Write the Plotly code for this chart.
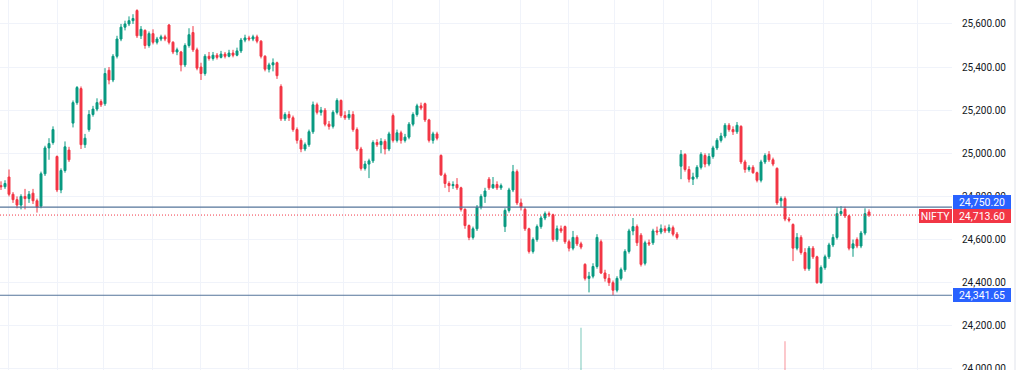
import plotly.graph_objects as go

# ---------------- data ----------------
symbol = "NIFTY"
last_price = 24713.60
resistance = 24750.20
support = 24341.65

opens = [24850, 24845, 24890, 24810, 24785, 24760, 24800, 24790, 24815, 24780,
         24755, 24905, 25025, 25050, 24985, 24830, 24920, 25015, 25140, 25235,
         25300, 25040, 25110, 25180, 25205, 25240, 25230, 25385, 25340, 25450,
         25530, 25585, 25600, 25615, 25662, 25545, 25570, 25500, 25555, 25515,
         25530, 25540, 25595, 25515, 25470, 25470, 25410, 25500, 25560, 25480,
         25400, 25370, 25450, 25440, 25455, 25445, 25460, 25450, 25465, 25455,
         25475, 25525, 25535, 25530, 25540, 25520, 25450, 25390, 25410, 25420,
         25310, 25160, 25180, 25165, 25110, 25060, 25020, 25040, 25100, 25225,
         25190, 25200, 25135, 25125, 25190, 25245, 25175, 25165, 25180, 25110,
         25020, 24930, 24950, 24965, 25050, 25040, 25055, 25020, 25175, 25060,
         25095, 25060, 25075, 25135, 25180, 25220, 25230, 25155, 25060, 25090,
         24990, 24900, 24860, 24850, 24855, 24840, 24740, 24665, 24610, 24650,
         24750, 24800, 24880, 24840, 24855, 24840, 24660, 24735, 24830, 24915,
         24770, 24740, 24650, 24545, 24600, 24660, 24700, 24720, 24715, 24600,
         24650, 24660, 24590, 24560, 24610, 24580, 24485, 24420, 24430, 24475,
         24590, 24445, 24420, 24400, 24365, 24420, 24460, 24545, 24640, 24660,
         24620, 24490, 24585, 24585, 24640, 24635, 24650, 24640, 24655, 24625,
         24940, 24995, 24925, 24880, 24890, 24935, 24990, 24950, 24985, 25025,
         25060, 25080, 25130, 25110, 25100, 25125, 24960, 24925, 24935, 24910,
         24875, 24960, 24995, 24970, 24930, 24780, 24790, 24695, 24670, 24560,
         24610, 24540, 24465, 24560, 24520, 24400, 24470, 24520, 24575, 24610,
         24720, 24740, 24710, 24560, 24600, 24570, 24630, 24728]

highs = [24870, 24875, 24925, 24820, 24800, 24810, 24835, 24825, 24835, 24790,
         24915, 25035, 25070, 25125, 24990, 24930, 25055, 25030, 25245, 25312,
         25310, 25090, 25200, 25220, 25255, 25250, 25395, 25400, 25460, 25545,
         25600, 25615, 25635, 25645, 25668, 25590, 25575, 25565, 25575, 25540,
         25550, 25550, 25600, 25520, 25490, 25475, 25510, 25580, 25590, 25490,
         25420, 25460, 25470, 25470, 25465, 25475, 25470, 25480, 25480, 25490,
         25535, 25550, 25545, 25550, 25550, 25525, 25455, 25420, 25440, 25425,
         25320, 25190, 25195, 25175, 25120, 25070, 25050, 25110, 25240, 25235,
         25215, 25210, 25150, 25200, 25255, 25250, 25195, 25200, 25195, 25120,
         25030, 24965, 24975, 25060, 25065, 25070, 25065, 25100, 25185, 25110,
         25105, 25090, 25145, 25190, 25230, 25235, 25235, 25160, 25100, 25100,
         24995, 24910, 24870, 24870, 24885, 24845, 24745, 24670, 24660, 24760,
         24810, 24840, 24890, 24890, 24870, 24860, 24745, 24840, 24946, 24925,
         24790, 24750, 24655, 24610, 24670, 24710, 24730, 24730, 24720, 24665,
         24665, 24665, 24600, 24640, 24620, 24590, 24490, 24450, 24490, 24625,
         24600, 24460, 24440, 24410, 24430, 24470, 24555, 24650, 24700, 24670,
         24630, 24595, 24600, 24650, 24660, 24670, 24665, 24670, 24665, 24635,
         25015, 25000, 24940, 24910, 24945, 25005, 25000, 25000, 25035, 25070,
         25095, 25140, 25140, 25125, 25145, 25130, 24970, 24945, 24945, 24915,
         24970, 25000, 25010, 24980, 24935, 24800, 24800, 24705, 24675, 24630,
         24620, 24560, 24570, 24570, 24525, 24480, 24530, 24585, 24625, 24750,
         24755, 24752, 24715, 24600, 24610, 24640, 24745, 24740]

lows = [24830, 24835, 24800, 24770, 24745, 24740, 24740, 24770, 24765, 24725,
        24745, 24895, 24970, 25040, 24820, 24815, 24910, 24960, 25120, 25225,
        25020, 25025, 25100, 25170, 25195, 25215, 25220, 25320, 25330, 25440,
        25520, 25570, 25590, 25600, 25535, 25530, 25485, 25490, 25505, 25505,
        25520, 25520, 25505, 25460, 25455, 25380, 25400, 25490, 25470, 25385,
        25340, 25360, 25430, 25430, 25435, 25440, 25440, 25445, 25445, 25450,
        25465, 25515, 25520, 25520, 25510, 25440, 25380, 25375, 25380, 25345,
        25150, 25150, 25150, 25100, 25045, 25005, 25010, 25030, 25090, 25180,
        25175, 25125, 25110, 25115, 25180, 25165, 25155, 25155, 25100, 25010,
        24920, 24920, 24885, 24955, 25030, 25000, 24995, 25010, 25050, 25050,
        25045, 25050, 25065, 25125, 25170, 25200, 25145, 25050, 25045, 25060,
        24895, 24840, 24820, 24835, 24830, 24730, 24650, 24597, 24600, 24640,
        24740, 24770, 24830, 24835, 24830, 24830, 24635, 24725, 24820, 24760,
        24735, 24640, 24535, 24535, 24590, 24650, 24690, 24705, 24590, 24590,
        24630, 24580, 24545, 24550, 24570, 24555, 24410, 24355, 24420, 24465,
        24440, 24405, 24385, 24342, 24355, 24410, 24450, 24535, 24620, 24570,
        24475, 24480, 24570, 24575, 24620, 24625, 24630, 24630, 24615, 24600,
        24880, 24915, 24865, 24853, 24880, 24925, 24935, 24940, 24975, 25015,
        25050, 25070, 25100, 25085, 25090, 24950, 24910, 24915, 24905, 24865,
        24865, 24950, 24960, 24940, 24760, 24750, 24685, 24680, 24500, 24550,
        24530, 24455, 24455, 24510, 24395, 24395, 24460, 24510, 24565, 24600,
        24710, 24700, 24550, 24520, 24560, 24560, 24620, 24705]

closes = [24845, 24860, 24810, 24785, 24760, 24800, 24790, 24810, 24780, 24750,
          24905, 25025, 25045, 25110, 24830, 24920, 25030, 24970, 25235, 25305,
          25040, 25070, 25180, 25205, 25235, 25225, 25370, 25340, 25450, 25530,
          25585, 25600, 25615, 25625, 25545, 25575, 25500, 25555, 25515, 25530,
          25540, 25530, 25515, 25470, 25480, 25410, 25500, 25550, 25480, 25395,
          25370, 25450, 25440, 25455, 25445, 25460, 25450, 25465, 25455, 25475,
          25525, 25535, 25530, 25540, 25520, 25450, 25390, 25410, 25420, 25360,
          25160, 25180, 25165, 25110, 25060, 25020, 25040, 25100, 25225, 25190,
          25200, 25135, 25125, 25190, 25245, 25175, 25165, 25180, 25110, 25020,
          24930, 24950, 24965, 25050, 25040, 25055, 25020, 25090, 25060, 25095,
          25060, 25075, 25135, 25180, 25220, 25210, 25155, 25060, 25090, 25070,
          24900, 24860, 24850, 24855, 24840, 24740, 24665, 24610, 24650, 24750,
          24800, 24825, 24840, 24855, 24840, 24850, 24735, 24830, 24915, 24770,
          24750, 24650, 24545, 24600, 24660, 24700, 24720, 24715, 24600, 24650,
          24640, 24590, 24560, 24610, 24580, 24565, 24420, 24430, 24475, 24610,
          24445, 24420, 24400, 24365, 24420, 24460, 24545, 24640, 24660, 24585,
          24485, 24585, 24580, 24640, 24635, 24650, 24640, 24655, 24625, 24610,
          24995, 24925, 24880, 24890, 24935, 24995, 24950, 24985, 25025, 25060,
          25080, 25130, 25110, 25100, 25130, 24960, 24925, 24935, 24910, 24875,
          24960, 24990, 24970, 24950, 24770, 24790, 24695, 24690, 24560, 24610,
          24540, 24465, 24560, 24520, 24400, 24470, 24520, 24575, 24610, 24720,
          24730, 24710, 24560, 24580, 24570, 24630, 24720, 24713.6]

vol_index = [145, 196]
vol_values = [11.4, 7.8]

price_ticks = [24000, 24200, 24400, 24600, 24800, 25000, 25200, 25400, 25600]

# ---------------- styling / layout ----------------
UP = "#089981"
DN = "#f23645"
BLUE = "#2962ff"
LINE = "#55759a"
GRID = "#f0f3fa"

W, H = 1024, 370
R_MARGIN = 72
PLOT_W = W - R_MARGIN
PX_PER_CANDLE = 4.0
x0 = -0.25
x1 = x0 + PLOT_W / PX_PER_CANDLE

grid_px = [8, 57, 103, 152, 200, 248, 297, 343, 392, 439, 520, 568, 614, 663,
           711, 758, 823, 871, 917]
grid_x = [p / PX_PER_CANDLE + x0 for p in grid_px]

xs = list(range(len(opens)))

fig = go.Figure()
fig.add_trace(go.Candlestick(
    x=xs, open=opens, high=highs, low=lows, close=closes,
    increasing=dict(line=dict(color=UP, width=1), fillcolor=UP),
    decreasing=dict(line=dict(color=DN, width=1), fillcolor=DN),
    whiskerwidth=0, showlegend=False, hoverinfo="skip"))

fig.add_trace(go.Bar(
    x=vol_index, y=vol_values, yaxis="y2", width=0.3,
    marker=dict(color=["rgba(8,153,129,0.45)", "rgba(242,54,69,0.45)"],
                line=dict(width=0)),
    showlegend=False, hoverinfo="skip"))

shapes = [
    dict(type="line", xref="paper", x0=0, x1=1, yref="y", y0=resistance, y1=resistance,
         line=dict(color=LINE, width=1.2)),
    dict(type="line", xref="paper", x0=0, x1=1, yref="y", y0=support, y1=support,
         line=dict(color=LINE, width=1.2)),
    dict(type="line", xref="paper", x0=0, x1=919 / PLOT_W, yref="y", y0=last_price, y1=last_price,
         line=dict(color=DN, width=1, dash="1px,2px")),
    dict(type="line", xref="paper", x0=1015 / PLOT_W, x1=1015 / PLOT_W, yref="paper", y0=0, y1=1,
         line=dict(color="#e0e3eb", width=1)),
]

FONT = "Roboto, Arial, sans-serif"
ann_common = dict(xref="paper", yref="y", showarrow=False, borderpad=0, borderwidth=0,
                  font=dict(family=FONT, size=10.5, color="white"), height=14)
annotations = [
    dict(x=1, xanchor="left", xshift=1, y=resistance, yshift=5.5,
         text=f"{resistance:,.2f}", bgcolor=BLUE, width=58, **ann_common),
    dict(x=1, xanchor="left", xshift=1, y=last_price, yshift=-1,
         text=f"{last_price:,.2f}", bgcolor=DN, width=58, **ann_common),
    dict(x=1, xanchor="right", xshift=0, y=last_price, yshift=-1,
         text=symbol, bgcolor=DN, width=33, **ann_common),
    dict(x=1, xanchor="left", xshift=1, y=support, yshift=0,
         text=f"{support:,.2f}", bgcolor=BLUE, width=58, **ann_common),
]

fig.update_layout(
    width=W, height=H,
    margin=dict(l=0, r=R_MARGIN, t=0, b=0, autoexpand=False),
    paper_bgcolor="white", plot_bgcolor="white",
    shapes=shapes, annotations=annotations,
    xaxis=dict(range=[x0, x1], tickvals=grid_x, showticklabels=False, showgrid=True,
               gridcolor=GRID, gridwidth=1, zeroline=False, showline=False, ticks="",
               rangeslider=dict(visible=False), fixedrange=True, automargin=False),
    yaxis=dict(side="right", range=[23995, 25711], tickvals=price_ticks,
               tickformat=",.2f", showgrid=True, gridcolor=GRID, zeroline=False,
               showline=False, ticks="", ticklabelstandoff=9,
               ticklabeloverflow="allow", automargin=False,
               tickfont=dict(family=FONT, size=10, color="#131722")),
    yaxis2=dict(overlaying="y", range=[0, 100], visible=False, fixedrange=True),
    hovermode=False,
)

fig.write_html("out.html")
